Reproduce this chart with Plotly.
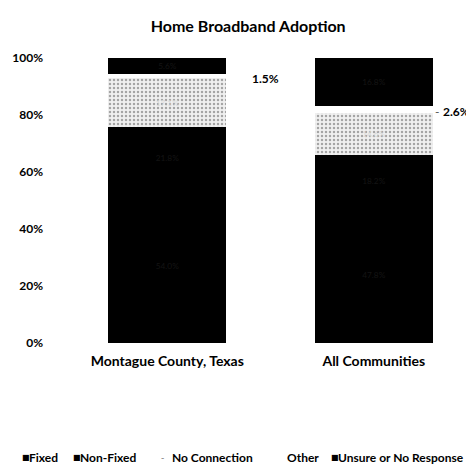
import plotly.graph_objects as go

categories = ["Montague County, Texas", "All Communities"]
fixed = [54.0, 47.8]
non_fixed = [21.8, 18.2]
no_connection = [17.1, 14.6]
other = [1.5, 2.6]
unsure = [5.6, 16.8]
tick_vals = [0, 20, 40, 60, 80, 100]
tick_text = ["0%", "20%", "40%", "60%", "80%", "100%"]

FONT = "Lato"
fig = go.Figure()

def add(name, vals, color, txtcolor, pattern=None):
    marker = dict(color=color, line=dict(width=0))
    if pattern:
        marker["pattern"] = pattern
    fig.add_trace(go.Bar(
        name=name, x=categories, y=vals, marker=marker,
        text=[f"{v:.1f}%" for v in vals], textposition="inside",
        insidetextanchor="middle",
        textfont=dict(color=txtcolor, size=10, family=FONT),
        showlegend=False, hoverinfo="skip"))

add("Fixed", fixed, "#000000", "#141414")
add("Non-Fixed", non_fixed, "#000000", "#141414")
add("No Connection", no_connection, "#e6e6e6", "#d8d8d8",
    pattern=dict(shape=".", fgcolor="#5a5a5a", bgcolor="#f0f0f0", size=4, solidity=0.3))
fig.add_trace(go.Bar(name="Other", x=categories, y=other,
                     marker=dict(color="#ffffff", line=dict(width=0)),
                     showlegend=False, hoverinfo="skip"))
add("Unsure or No Response", unsure, "#000000", "#141414")

# Data labels for "Other" outside the bars
shifts = [84, 60]
for i, cat in enumerate(categories):
    base = fixed[i] + non_fixed[i] + no_connection[i]
    mid = base + other[i] / 2
    if i == 1:
        fig.add_annotation(x=cat, y=mid, xref="x", yref="y", text="-",
                           showarrow=False, xanchor="left", yanchor="middle",
                           xshift=shifts[i], yshift=-2, borderpad=0,
                           font=dict(family=FONT, size=12, color="#555"))
    fig.add_annotation(x=cat, y=mid, xref="x", yref="y",
                       text=f"{other[i]:.1f}%",
                       showarrow=False, xanchor="left", yanchor="middle",
                       xshift=shifts[i] + (8 if i == 1 else 0), yshift=-2, borderpad=0,
                       font=dict(family=FONT, size=12, color="#000", weight="bold"))

# Legend drawn as text
leg_y = -0.403
def px2paper(px):
    return (px - 55.5) / 414.0

legend_items = [
    (12, "■", 19, "Fixed"),
    (64, "■", 71, "Non-Fixed"),
    (152, "-", 163, "No Connection"),
    (None, None, 278, "Other"),
    (322, "■", 329, "Unsure or No Response"),
]
for sx, sym, tx, label in legend_items:
    if sym:
        fig.add_annotation(x=px2paper(sx), y=leg_y, xref="paper", yref="paper",
                           text=sym, showarrow=False, xanchor="left", yanchor="middle",
                           borderpad=0,
                           font=dict(family="DejaVu Sans", size=8 if sym == "■" else 9,
                                     color="#000" if sym == "■" else "#777"))
    fig.add_annotation(x=px2paper(tx), y=leg_y, xref="paper", yref="paper",
                       text=label, showarrow=False, xanchor="left", yanchor="middle",
                       borderpad=0,
                       font=dict(family=FONT, size=12, color="#000", weight="bold"))

fig.update_layout(
    barmode="stack",
    bargap=0.43,
    width=474, height=464,
    margin=dict(l=55.5, r=4.5, t=50, b=129, autoexpand=False),
    paper_bgcolor="white", plot_bgcolor="white",
    title=dict(text="Home Broadband Adoption", x=0.5067, xanchor="center",
               y=1 - 18 / 464, yanchor="middle",
               font=dict(family=FONT, size=16, color="#000", weight="bold")),
    xaxis=dict(showline=False, showgrid=False, ticks="", ticklabelstandoff=8,
               tickfont=dict(family=FONT, size=14, color="#000", weight="bold")),
    yaxis=dict(range=[0, 100], tickvals=tick_vals, ticktext=tick_text,
               showgrid=False, zeroline=False, showline=False, ticks="",
               ticklabelstandoff=20,
               tickfont=dict(family=FONT, size=12, color="#000", weight="bold")),
    uniformtext=dict(minsize=6, mode="show"),
)

fig.write_html("out.html")
